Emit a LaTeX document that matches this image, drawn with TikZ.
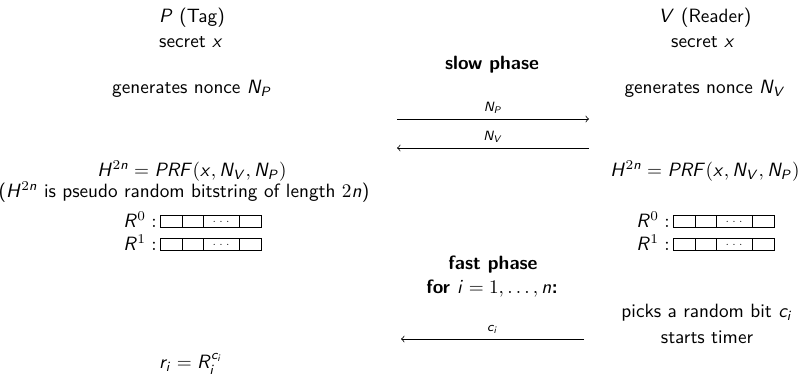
\documentclass[tikz,border=0pt]{standalone}
\DeclareSymbolFont{sfit}{OT1}{cmss}{m}{sl}
\DeclareMathSymbol{H}{\mathalpha}{sfit}{`H}
\DeclareMathSymbol{n}{\mathalpha}{sfit}{`n}
\DeclareMathSymbol{P}{\mathalpha}{sfit}{`P}
\DeclareMathSymbol{R}{\mathalpha}{sfit}{`R}
\DeclareMathSymbol{F}{\mathalpha}{sfit}{`F}
\DeclareMathSymbol{x}{\mathalpha}{sfit}{`x}
\DeclareMathSymbol{N}{\mathalpha}{sfit}{`N}
\DeclareMathSymbol{V}{\mathalpha}{sfit}{`V}
\DeclareMathSymbol{i}{\mathalpha}{sfit}{`i}
\DeclareMathSymbol{c}{\mathalpha}{sfit}{`c}
\DeclareMathSymbol{r}{\mathalpha}{sfit}{`r}
\tikzset{
  txt/.style={font=\sffamily, inner sep=0pt},
  phase/.style={font=\sffamily\bfseries, inner sep=0pt},
  msg/.style={->, line width=0.4pt},
  lbl/.style={font=\sffamily\scriptsize, inner sep=0pt, above=2.5pt},
  cell/.style={line width=0.4pt},
  bitrow/.pic={
    \draw[cell] (0,-6) rectangle (101,6) (22,-6) -- (22,6) (43,-6) -- (43,6) (79,-6) -- (79,6);
    \node[font=\tiny, inner sep=0pt] (-d) at (61,1) {$\dots$};
  }
}
\begin{document}
\begin{tikzpicture}[x=0.52pt, y=-0.52pt]
\useasboundingbox (0,0) rectangle (800,374);
% left column (Tag)
\node[txt] (ptag) at (192,18) {$P$ (Tag)};
\node[txt] (psec) at (191,42) {secret $x$};
\node[txt] (pnon) at (192,89) {generates nonce $N_P$};
\node[txt] (ph) at (192,171) {$H^{2n} = PRF(x, N_V, N_P)$};
\node[txt] (pnote) at (184,192) {($H^{2n}$ is pseudo random bitstring of length $2n$)};
\node[txt, anchor=east] (pr0) at (157,220) {$R^0:$};
\node[txt, anchor=east] (pr1) at (157,243) {$R^1:$};
\pic (pb0) at (160,221) {bitrow};
\pic (pb1) at (160,244) {bitrow};
\node[txt] (pri) at (191,364) {$r_i = R_i^{c_i}$};
% right column (Reader)
\node[txt] (vrd) at (705,18) {$V$ (Reader)};
\node[txt] (vsec) at (703,42) {secret $x$};
\node[txt] (vnon) at (705,89) {generates nonce $N_V$};
\node[txt] (vh) at (705,171) {$H^{2n} = PRF(x, N_V, N_P)$};
\node[txt, anchor=east] (vr0) at (670,220) {$R^0:$};
\node[txt, anchor=east] (vr1) at (670,243) {$R^1:$};
\pic (vb0) at (673,221) {bitrow};
\pic (vb1) at (673,244) {bitrow};
\node[txt] (vpick) at (707,313) {picks a random bit $c_i$};
\node[txt] (vtim) at (707,337) {starts timer};
% middle column
\node[phase] (slow) at (492,65) {slow phase};
\coordinate (m1a) at (397,119);
\coordinate (m1b) at (589,119);
\coordinate (m2a) at (589,148);
\coordinate (m2b) at (397,148);
\draw[msg] (m1a) -- node[lbl] (l1) {$N_P$} (m1b);
\draw[msg] (m2a) -- node[lbl] (l2) {$N_V$} (m2b);
\node[phase] (fast) at (493,265) {fast phase};
\node[phase] (fori) at (492,289) {for \mdseries$i = 1, \dots, n$\bfseries:};
\coordinate (m3a) at (584,339);
\coordinate (m3b) at (401,339);
\draw[msg] (m3a) -- node[lbl] (l3) {$c_i$} (m3b);
\end{tikzpicture}
\end{document}
